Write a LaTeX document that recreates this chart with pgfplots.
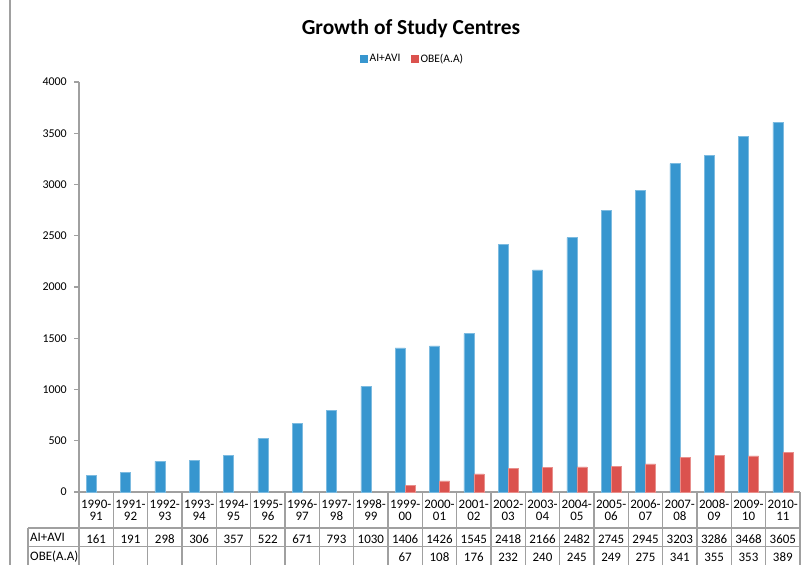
\documentclass[border=0pt]{standalone}
\usepackage{pgfplots}
\usepackage{pgfplotstable}
\pgfplotsset{compat=1.18}
\usepackage{fontspec}
\setmainfont{Carlito}
\definecolor{cblue}{RGB}{55,150,207}
\definecolor{cred}{RGB}{219,82,78}
\definecolor{lgray}{RGB}{160,160,160}
\newcommand\tcol[4]{\makebox[0pt]{\raisebox{-11bp}[0pt][0pt]{#1}}\makebox[0pt]{\raisebox{-23.5bp}[0pt][0pt]{#2}}\makebox[0pt]{\raisebox{-46bp}[0pt][0pt]{#3}}\makebox[0pt]{\raisebox{-64.5bp}[0pt][0pt]{#4}}}
\pgfplotstableread{
x ai obe
0 161 nan
1 191 nan
2 298 nan
3 306 nan
4 357 nan
5 522 nan
6 671 nan
7 793 nan
8 1030 nan
9 1406 67
10 1426 108
11 1545 176
12 2418 232
13 2166 240
14 2482 245
15 2745 249
16 2945 275
17 3203 341
18 3286 355
19 3468 353
20 3605 389
}\datatable
\begin{document}
\begin{tikzpicture}
\begin{axis}[
  at={(79bp,-492bp)}, anchor=south west,
  scale only axis, width=721bp, height=410bp,
  xmin=-0.5, xmax=20.5, ymin=0, ymax=4000,
  axis x line*=bottom, axis y line*=left,
  axis line style={lgray, line width=1.3bp},
  ybar=0pt, bar width=10bp,
  ytick={0,500,...,4000},
  tick align=outside, major tick length=5bp,
  ytick style={lgray, line width=1.2bp},
  xtick style={draw=none},
  yticklabel style={font=\fontsize{12}{14}\selectfont, inner sep=0pt, anchor=east, xshift=-7bp},
  /pgf/number format/assume math mode=true,
  /pgf/number format/1000 sep={},
  xtick={0,...,20},
  xticklabels={\tcol{1990-}{91}{161}{},\tcol{1991-}{92}{191}{},\tcol{1992-}{93}{298}{},\tcol{1993-}{94}{306}{},\tcol{1994-}{95}{357}{},\tcol{1995-}{96}{522}{},\tcol{1996-}{97}{671}{},\tcol{1997-}{98}{793}{},\tcol{1998-}{99}{1030}{},\tcol{1999-}{00}{1406}{67},\tcol{2000-}{01}{1426}{108},\tcol{2001-}{02}{1545}{176},\tcol{2002-}{03}{2418}{232},\tcol{2003-}{04}{2166}{240},\tcol{2004-}{05}{2482}{245},\tcol{2005-}{06}{2745}{249},\tcol{2006-}{07}{2945}{275},\tcol{2007-}{08}{3203}{341},\tcol{2008-}{09}{3286}{355},\tcol{2009-}{10}{3468}{353},\tcol{2010-}{11}{3605}{389}},
  xticklabel style={anchor=base, inner sep=0pt, font=\fontsize{13}{15}\selectfont},
  legend style={at={(0.463,1.056)}, anchor=center, legend columns=2, draw=none, fill=none,
    font=\fontsize{11.5}{13}\selectfont,
    /tikz/every even column/.append style={column sep=9bp}},
  legend image code/.code={\draw[#1,draw=none] (0bp,-3.6bp) rectangle (7.2bp,3.6bp);},
  clip=false,
]
\addplot[fill=cblue, draw=cblue!65!white, line width=0.5bp] table[x=x, y=ai] {\datatable};
\addlegendentry{AI+AVI}
\addplot[fill=cred, draw=cred!65!white, line width=0.5bp] table[x=x, y=obe] {\datatable};
\addlegendentry{OBE(A.A)}
\end{axis}
% chart border
\draw[lgray, line width=1.5bp] (10bp,0bp) -- (10bp,-570bp);
% title
\node[font=\bfseries\fontsize{21.5}{24}\selectfont] at (411bp,-29bp) {Growth of Study Centres};
% data table grid
\foreach \i in {0,...,21} {
  \draw[lgray, line width=1.6bp] ({(79+\i*34.333)*1bp},-492bp) -- ({(79+\i*34.333)*1bp},-570bp);
}
\draw[lgray, line width=1.6bp] (28bp,-528bp) -- (800bp,-528bp);
\draw[lgray, line width=1.6bp] (28bp,-546.5bp) -- (800bp,-546.5bp);
\draw[lgray, line width=1.6bp] (28bp,-528bp) -- (28bp,-570bp);
\node[anchor=base west, inner sep=0pt, font=\fontsize{13}{15}\selectfont] at (30bp,-541bp) {AI+AVI};
\node[anchor=base west, inner sep=0pt, font=\fontsize{13}{15}\selectfont] at (30bp,-560bp) {OBE(A.A)};
\pgfresetboundingbox
\path[use as bounding box] (0bp,0bp) rectangle (802bp,-565bp);
\end{tikzpicture}
\end{document}
